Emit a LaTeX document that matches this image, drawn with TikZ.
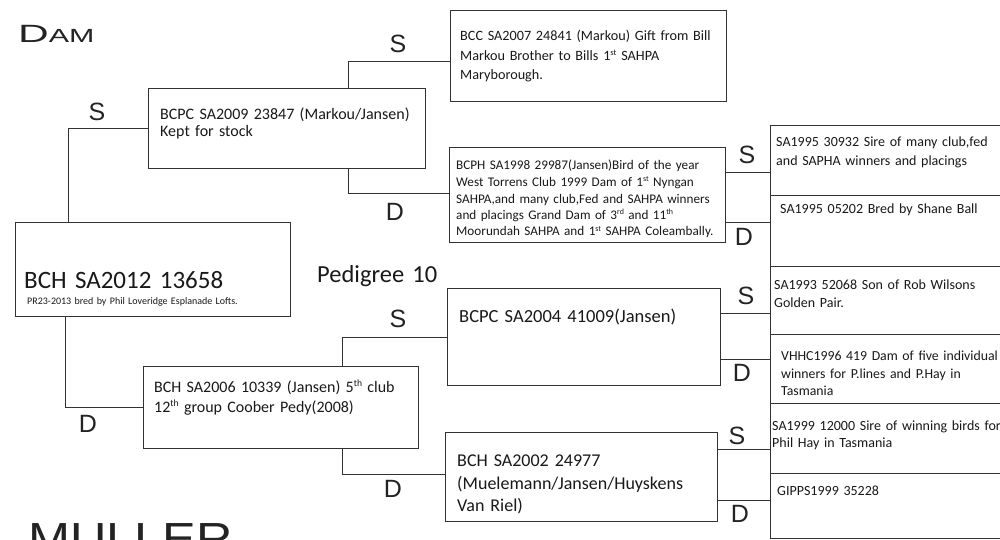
\documentclass[tikz,border=0pt]{standalone}
\usepackage{fontspec}
\setmainfont{Carlito}
\newfontfamily\handfont{Liberation Sans}
\definecolor{ink}{RGB}{50,50,50}
\definecolor{pen}{RGB}{35,35,35}
\definecolor{txtc}{RGB}{25,25,25}
\newcommand{\supx}[1]{\raisebox{0.36em}{\scalebox{0.6}{#1}}}
\begin{document}
\begin{tikzpicture}[x=1pt,y=-1pt,
  box/.style={draw=ink,line width=0.9pt,inner sep=0pt,anchor=north west},
  link/.style={draw=ink,line width=0.9pt},
  txt/.style={anchor=base west,inner sep=0pt,text width=320pt,align=left,text=txtc},
  hand/.style={font=\handfont\fontsize{25}{25}\selectfont,text=pen,inner sep=0pt}]
\fill[white] (0,0) rectangle (1000,540);
\useasboundingbox (0,0) rectangle (1000,540);

% boxes
\node[box,minimum width=275pt,minimum height=94pt] (main) at (15,222) {};
\node[box,minimum width=277pt,minimum height=80pt] (dam) at (148,88) {};
\node[box,minimum width=275pt,minimum height=82pt] (sire) at (143,366) {};
\node[box,minimum width=276pt,minimum height=91pt] (bcc) at (450,10) {};
\node[box,minimum width=276pt,minimum height=95pt] (bcph) at (449,147) {};
\node[box,minimum width=273pt,minimum height=97pt] (bcpc) at (447,288) {};
\node[box,minimum width=272pt,minimum height=89pt] (bchb) at (445,432) {};
\node[box,minimum width=245pt,minimum height=70pt] (r1) at (770,125) {};
\node[box,minimum width=245pt,minimum height=71pt] (r2) at (770,195) {};
\node[box,minimum width=245pt,minimum height=68pt] (r3) at (770,266) {};
\node[box,minimum width=245pt,minimum height=69pt] (r4) at (770,334) {};
\node[box,minimum width=245pt,minimum height=70pt] (r5) at (770,403) {};
\node[box,minimum width=245pt,minimum height=65pt] (r6) at (770,473) {};

% texts
\node[txt,font=\fontsize{25}{30}\selectfont] (t0) at (24,288) {BCH SA2012 13658};
\node[txt,font=\fontsize{10}{12}\selectfont] (t0b) at (27,304) {PR23-2013 bred by Phil Loveridge Esplanade Lofts.};
\node[txt,font=\fontsize{16}{17}\selectfont] (tdam) at (160,120) {BCPC SA2009 23847 (Markou/Jansen)\\Kept for stock};
\node[txt,font=\fontsize{16}{20.5}\selectfont] (tsire) at (154,392) {BCH SA2006 10339 (Jansen) 5\supx{th} club\\12\supx{th} group Coober Pedy(2008)};
\node[txt,font=\fontsize{14.2}{19.5}\selectfont] (tbcc) at (460,41) {BCC SA2007 24841 (Markou) Gift from Bill\\Markou Brother to Bills 1\supx{st} SAHPA\\Maryborough.};
\node[txt,font=\fontsize{13.2}{16.5}\selectfont] (tbcph) at (456,170) {BCPH SA1998 29987(Jansen)Bird of the year\\West Torrens Club 1999 Dam of 1\supx{st} Nyngan\\SAHPA,and many club,Fed and SAHPA winners\\and placings Grand Dam of 3\supx{rd} and 11\supx{th}\\Moorundah SAHPA and 1\supx{st} SAHPA Coleambally.};
\node[txt,font=\fontsize{18.5}{22}\selectfont] (tbcpc) at (459,322.7) {BCPC SA2004 41009(Jansen)};
\node[txt,font=\fontsize{18}{22.5}\selectfont] (tbchb) at (457,466.7) {BCH SA2002 24977\\(Muelemann/Jansen/Huyskens\\Van Riel)};
\node[txt,font=\fontsize{14}{18}\selectfont] (tr1) at (776,147) {SA1995 30932 Sire of many club,fed\\and SAPHA winners and placings};
\node[txt,font=\fontsize{14}{18}\selectfont] (tr2) at (780,213) {SA1995 05202 Bred by Shane Ball};
\node[txt,font=\fontsize{14}{18.4}\selectfont] (tr3) at (774,289.3) {SA1993 52068 Son of Rob Wilsons\\Golden Pair.};
\node[txt,font=\fontsize{13.8}{17.5}\selectfont] (tr4) at (781,360.7) {VHHC1996 419 Dam of five individual\\winners for P.lines and P.Hay in\\Tasmania};
\node[txt,font=\fontsize{14}{17.3}\selectfont] (tr5) at (772,430) {SA1999 12000 Sire of winning birds for\\Phil Hay in Tasmania};
\node[txt,font=\fontsize{14}{18}\selectfont] (tr6) at (777,495) {GIPPS1999 35228};
\node[txt,font=\fontsize{24.5}{28}\selectfont] (ped) at (317,282) {Pedigree 10};

% connectors
\draw[link] ([xshift=53pt]main.north west) |- (dam.west);
\draw[link] ([xshift=50pt]main.south west) |- (sire.west);
\draw[link] ([xshift=200pt]dam.north west) |- ([yshift=-6pt]bcc.west);
\draw[link] ([xshift=200pt]dam.south west) |- ([yshift=2pt]bcph.west);
\draw[link] ([xshift=199pt]sire.north west) |- (bcpc.west);
\draw[link] ([xshift=199pt]sire.south west) |- ([yshift=3pt]bchb.west);
\coordinate (c1) at ([yshift=-12pt]r1.west);
\coordinate (c2) at ([yshift=9pt]r2.west);
\coordinate (c3) at ([yshift=-13pt]r3.west);
\coordinate (c4) at ([yshift=10pt]r4.west);
\coordinate (c5) at ([yshift=-11pt]r5.west);
\coordinate (c6) at ([yshift=6pt]r6.west);
\draw[link] (c1 -| bcph.east) -- (c1);
\draw[link] (c2 -| bcph.east) -- (c2);
\draw[link] (c3 -| bcpc.east) -- (c3);
\draw[link] (c4 -| bcpc.east) -- (c4);
\draw[link] (c5 -| bchb.east) -- (c5);
\draw[link] (c6 -| bchb.east) -- (c6);

% S / D labels
\node[hand] (s1) at (97,112) {S};
\node[hand] (d1) at (88,424) {D};
\node[hand] (s2) at (398,44) {S};
\node[hand] (d2) at (395,212) {D};
\node[hand] (s3) at (398,319) {S};
\node[hand] (d3) at (393,489) {D};
\node[hand] (s4) at (747,155) {S};
\node[hand] (d4) at (744,237) {D};
\node[hand] (s5) at (746,296) {S};
\node[hand] (d5) at (742,373) {D};
\node[hand] (s6) at (737,436) {S};
\node[hand] (d6) at (740,514) {D};

% handwritten titles
\node[anchor=base west,inner sep=0pt,text=pen] (damt) at (18,43) {\handfont\scalebox{1.7}[1]{\fontsize{25}{25}\selectfont D}\scalebox{1.6}[1]{\fontsize{19}{19}\selectfont AM}};
\node[anchor=base west,inner sep=0pt,text=pen] (mull) at (28,554) {\handfont\scalebox{1.12}[1]{\fontsize{45}{45}\selectfont MULLER}};
\end{tikzpicture}
\end{document}
